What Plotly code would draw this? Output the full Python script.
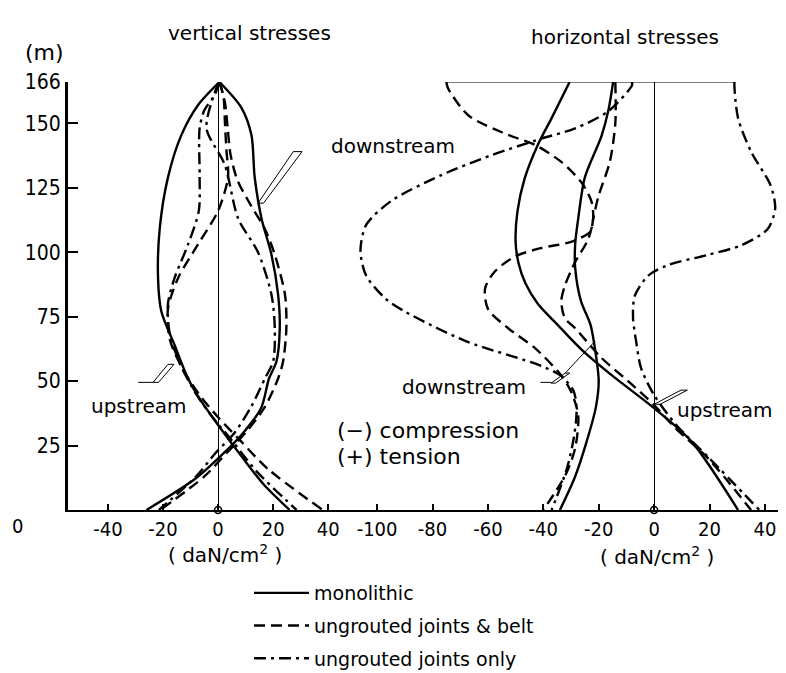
import plotly.graph_objects as go

# ---------------- data ----------------
# Vertical stresses (left panel): height (m) and stress (daN/cm2)
v_up_mono_h = [166, 157, 145.5, 129, 109, 90, 77, 64, 51, 42, 33, 21, 10, 0]
v_up_mono_s = [0.5, -7.3, -13.3, -18.2, -21.2, -21.8, -20.6, -15.8, -10.9, -6, 0, 8.4, 16.5, 26]
v_dn_mono_h = [166, 156, 145.5, 129, 113, 99, 83.5, 70.5, 57.6, 51, 39.5, 29, 21, 12, 0]
v_dn_mono_s = [0.5, 8.5, 12.1, 13.3, 15.8, 19.4, 21.8, 22.4, 21.2, 18.5, 15.6, 8.4, 1, -8.4, -26]
v_up_belt_h = [166, 160, 150, 140, 129, 116, 103, 90, 78, 66, 55, 45, 36, 27, 16, 0]
v_up_belt_s = [0.5, 2, 2.5, 3, 3.6, 0, -7.3, -14.5, -18.2, -17.5, -13, -7, 0, 8, 18, 38]
v_dn_belt_h = [166, 158, 148, 138, 128, 118, 109, 99, 83.5, 70.5, 57.6, 51, 40, 30, 22, 13, 0]
v_dn_belt_s = [0.5, 2.5, 3.5, 4.5, 7, 12, 17, 20.6, 24.3, 24.8, 23.6, 21.8, 17, 10, 3, -5, -21]
v_up_only_h = [166, 161, 155, 148, 130, 116, 103, 90, 80, 68, 56, 45, 36, 27, 15, 0]
v_up_only_s = [0.5, -1.2, -5, -6.7, -6.7, -7, -10.9, -15.8, -18.2, -17.5, -13.5, -8, -2, 5, 14, 28.5]
v_dn_only_h = [166, 162, 148, 134, 113, 100, 83.5, 70.5, 57.6, 51, 40, 30, 22, 13, 0]
v_dn_only_s = [0.5, -1.2, -4.2, 2.4, 7.3, 14.5, 19.4, 20.6, 20, 17, 12, 6, -1, -8, -21.5]

# Horizontal stresses (right panel)
h_up_mono_h = [166, 152, 141.6, 128.7, 116, 104, 96, 88, 80, 72, 62, 52, 39.5, 26.7, 0]
h_up_mono_s = [-30.5, -37, -42, -46.7, -49.3, -50, -49, -46.5, -42, -35, -26, -15, 0, 13.4, 30.3]
h_dn_mono_h = [166, 155, 145, 129, 113, 103, 94, 81, 72, 60, 50, 40, 26, 13, 0]
h_dn_mono_s = [-14.8, -16.5, -19, -25, -27.4, -28.5, -28.5, -26.4, -23, -21, -20, -21, -24.5, -28.5, -34]
h_up_belt_h = [166, 163.6, 153, 145.5, 141.6, 135, 127, 119.6, 113, 105, 96, 87, 81, 74.4, 70.5, 59, 50, 40.7, 31.8, 20, 0]
h_up_belt_s = [-75, -74.4, -67, -52.7, -43, -33.5, -26.2, -22.6, -22, -23.8, -28.6, -32.2, -33.5, -32.2, -28.5, -19, -9.4, 0, 7.6, 19.5, 35]
h_dn_belt_h = [166, 150, 135, 122, 113, 108, 104, 101.6, 98.3, 92.5, 86, 78, 70.5, 62.8, 52.3, 46, 36.8, 24, 13.6, 0]
h_dn_belt_s = [-14, -14, -16, -20, -22, -23, -30, -40.8, -50.3, -57.5, -61, -60, -52.7, -43, -33.6, -30, -27.4, -28.5, -32, -40]
h_up_only_h = [166, 164, 152, 139, 126, 117, 109, 102.7, 99, 95, 91, 83, 74.4, 65.5, 55, 44.6, 33, 20, 0]
h_up_only_s = [29, 29, 30.3, 35, 42, 43.7, 41, 31.5, 19.5, 5, -2, -7, -7.6, -6.5, -4.7, 0, 8, 20, 38]
h_dn_only_h = [166, 164.7, 154.6, 148, 144, 137.6, 129.8, 119.8, 110.5, 100.4, 91, 82, 77, 65.5, 56, 52, 46, 38, 28, 16, 0]
h_dn_only_s = [-8, -8, -16.6, -28.5, -40.8, -58.8, -77, -95, -104, -106, -104, -97, -90, -68, -41, -33.6, -29, -28, -29, -31.5, -37]
h_crest_s = [-75, 29]
h_crest_h = [166, 166]

y_ticks = [25, 50, 75, 100, 125, 150, 166]
x1_ticks = [-40, -20, 0, 20, 40]
x2_ticks = [-100, -80, -60, -40, -20, 0, 20, 40]

legend_names = ["monolithic", "ungrouted joints & belt", "ungrouted joints only"]

# ---------------- styling ----------------
FONT = "DejaVu Sans"
NUMF = "DejaVu Sans Condensed, DejaVu Sans"
DASH = {"mono": "solid", "belt": "11px,6px", "only": "12px,5px,3px,5px"}
LW = 2.4

fig = go.Figure()

def add(xs, ys, kind, axis, legend=False):
    name = {"mono": legend_names[0], "belt": legend_names[1], "only": legend_names[2]}[kind]
    fig.add_trace(go.Scatter(
        x=xs, y=ys, mode="lines", name=name, xaxis=axis, yaxis="y",
        line=dict(color="black", width=LW, dash=DASH[kind], shape="spline", smoothing=0.8),
        showlegend=legend, legendgroup=kind, hoverinfo="skip"))

add(v_up_mono_s, v_up_mono_h, "mono", "x", True)
add(v_up_belt_s, v_up_belt_h, "belt", "x", True)
add(v_up_only_s, v_up_only_h, "only", "x", True)
add(v_dn_mono_s, v_dn_mono_h, "mono", "x")
add(v_dn_belt_s, v_dn_belt_h, "belt", "x")
add(v_dn_only_s, v_dn_only_h, "only", "x")
add(h_up_mono_s, h_up_mono_h, "mono", "x2")
add(h_dn_mono_s, h_dn_mono_h, "mono", "x2")
add(h_up_belt_s, h_up_belt_h, "belt", "x2")
add(h_dn_belt_s, h_dn_belt_h, "belt", "x2")
add(h_up_only_s, h_up_only_h, "only", "x2")
add(h_dn_only_s, h_dn_only_h, "only", "x2")

# crest line of the horizontal stress panel
fig.add_trace(go.Scatter(x=h_crest_s, y=h_crest_h, mode="lines", xaxis="x2", yaxis="y",
                         line=dict(color="black", width=1), showlegend=False, hoverinfo="skip"))
# origin circles
for ax in ("x", "x2"):
    fig.add_trace(go.Scatter(x=[0], y=[0], mode="markers", xaxis=ax, yaxis="y",
                             marker=dict(symbol="circle-open", size=7, color="black", line=dict(width=1.5)),
                             showlegend=False, hoverinfo="skip", cliponaxis=False))

# ---------------- layout ----------------
L, T, W, H = 60, 74, 726, 428
def px(x):
    return (x - L) / W
def py(y):
    return (T + H - y) / H

split = 285 / 726

axis_common = dict(showgrid=False, showline=True, linecolor="black", linewidth=2,
                   ticks="inside", ticklen=6, tickwidth=1.5, tickcolor="black",
                   zeroline=True, zerolinecolor="black", zerolinewidth=1,
                   tickfont=dict(family=NUMF, size=20, color="black"))

fig.update_layout(
    width=786, height=673,
    margin=dict(l=L, r=0, t=T, b=673 - T - H),
    paper_bgcolor="white", plot_bgcolor="white",
    xaxis=dict(domain=[0, split], range=[-54.5, 49], anchor="y",
               tickvals=x1_ticks, ticktext=[("-" if v < 0 else "") + str(abs(v)) for v in x1_ticks],
               **axis_common),
    xaxis2=dict(domain=[split, 1], range=[-108.7, 50.5], anchor="y",
                tickvals=x2_ticks, ticktext=[("-" if v < 0 else "") + str(abs(v)) for v in x2_ticks],
                **axis_common),
    yaxis=dict(range=[0, 166], showgrid=False, zeroline=False, showline=True, linecolor="black",
               linewidth=3, ticks="inside", ticklen=10, tickwidth=2, tickcolor="black",
               tickvals=y_ticks, ticktext=[str(v) for v in y_ticks],
               tickfont=dict(family=NUMF, size=21, color="black")),
    showlegend=True,
    legend=dict(x=px(241), y=py(566), xanchor="left", yanchor="top",
                font=dict(family=FONT, size=19, color="black"),
                bgcolor="rgba(0,0,0,0)", tracegroupgap=5, itemwidth=55),
    font=dict(family=FONT, color="black"),
)

ann = []
def txt(x, y, s, size=20, xanchor="center", family=FONT):
    ann.append(dict(x=px(x), y=py(y), xref="paper", yref="paper", text=s, showarrow=False,
                    xanchor=xanchor, yanchor="middle", font=dict(family=family, size=size, color="black")))

txt(242, 25, "vertical stresses")
txt(617, 29, "horizontal stresses")
txt(36, 44, "(m)", size=22)
txt(9, 518, "0", size=20, family=NUMF)
txt(217, 546, "( daN/cm<sup>2</sup> )")
txt(649, 548, "( daN/cm<sup>2</sup> )")
txt(385, 138, "downstream")
txt(130, 398, "upstream")
txt(456, 379, "downstream")
txt(716, 402, "upstream")
txt(327, 422, "(\u2212) compression", size=22, xanchor="left")
txt(327, 448, "(+) tension", size=22, xanchor="left")

# arrow head at right end of the bottom axis
ann.append(dict(x=1, y=0, xref="paper", yref="paper", ax=-14, ay=0, axref="pixel", ayref="pixel",
                text="", showarrow=True, arrowhead=2, arrowsize=1.2, arrowwidth=2, arrowcolor="black"))
fig.update_layout(annotations=ann)

# hatched label pointers (double-line flags)
shapes = [
    dict(type="path", xref="x", yref="y", path="M 14.5,119 L 27.3,139 L 30.5,139 L 16.5,119 Z",
         line=dict(color="black", width=1)),
    dict(type="path", xref="x", yref="y", path="M -23.6,49.5 L -18.2,56.5 L -16.0,56.5 L -21.6,49.5 Z",
         line=dict(color="black", width=1)),
    dict(type="line", xref="x", yref="y", x0=-29, y0=49.5, x1=-23.6, y1=49.5, line=dict(color="black", width=1)),
    dict(type="path", xref="x2", yref="y", path="M -37.2,49.2 L -32.1,53.1 L -30.5,53.1 L -35.6,49.2 Z",
         line=dict(color="black", width=1)),
    dict(type="line", xref="x2", yref="y", x0=-32.1, y0=53.1, x1=-21.3, y1=65.5, line=dict(color="black", width=1)),
    dict(type="line", xref="x2", yref="y", x0=-41, y0=49.5, x1=-37.2, y1=49.5, line=dict(color="black", width=1)),
    dict(type="path", xref="x2", yref="y", path="M 0,41 L 9.7,46.5 L 12,46.5 L 2.2,41 Z",
         line=dict(color="black", width=1)),
]
fig.update_layout(shapes=shapes)

fig.write_html("out.html")
